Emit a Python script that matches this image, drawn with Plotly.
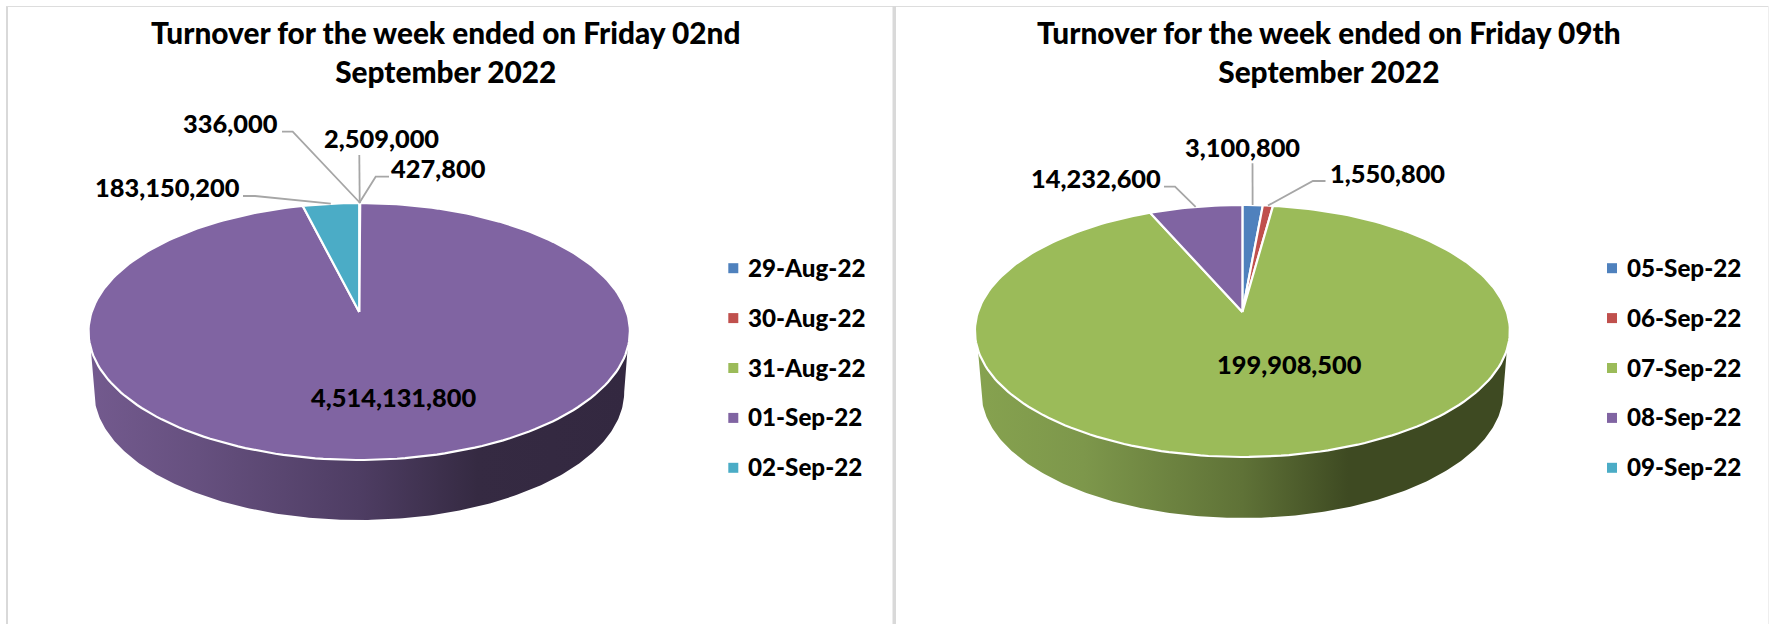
import numpy as np
import plotly.graph_objects as go

# ---- data ----
title_left = "Turnover for the week ended on Friday 02nd<br>September 2022"
title_right = "Turnover for the week ended on Friday 09th<br>September 2022"
dates_left = ["29-Aug-22", "30-Aug-22", "31-Aug-22", "01-Sep-22", "02-Sep-22"]
dates_right = ["05-Sep-22", "06-Sep-22", "07-Sep-22", "08-Sep-22", "09-Sep-22"]
values_left = [427800, 2509000, 336000, 4514131800, 183150200]
values_right = [3100800, 1550800, 199908500, 14232600, 0]
colors = ["#4F81BD", "#C0504D", "#9BBB59", "#8064A2", "#4BACC6"]

FONT = "Lato"
WEIGHT = 900
GREY = "#A6A6A6"
W, H = 1769, 624
N = 240
FS_LABEL = 25.4
FS_LEGEND = 24.2
TS = 29.8

fig = go.Figure()


def rim_xy(theta, g):
    """Perspective projection of a unit-disc rim/radius point; theta clockwise from 12 o'clock."""
    u, v = np.sin(theta), np.cos(theta)
    w = 1 + g["k"] * v
    return g["cx"] + g["a"] * u / w, g["ay"] - g["b"] * v / w


def geometry(cx, top, apex, front, rx):
    up, down = apex - top, front - apex
    k = (down - up) / (down + up)
    b = up * (1 + k)
    ry = (front - top) / 2
    cy = (front + top) / 2
    a = rx * np.sqrt(1 - ((cy - apex) / ry) ** 2)
    return dict(cx=cx, ay=apex, k=k, a=a, b=b, rx=rx, ry=ry, cy=cy)


def draw_pie(values, dates, g, side, gradient, labels, legend_x, title, title_x, inner):
    total = sum(values)
    edges = np.cumsum([0] + list(values)) / total * 2 * np.pi

    # extruded side, under the top face
    s = np.linspace(0, 1, N)
    phi = np.pi * s
    bx = g["cx"] - side["rx"] * np.cos(phi)
    by = side["cy"] + side["ry"] * np.sin(phi)
    tx = np.sqrt(1 - ((side["start"] - g["cy"]) / g["ry"]) ** 2) * g["rx"]
    px = np.r_[g["cx"] - tx, bx, g["cx"] + tx, g["cx"] - tx]
    py = np.r_[side["start"], by, side["start"], side["start"]]
    fig.add_trace(go.Scatter(
        x=px, y=py, mode="lines", fill="toself", line=dict(width=0, color="rgba(0,0,0,0)"),
        fillgradient=dict(type="horizontal", colorscale=gradient),
        hoverinfo="skip", showlegend=False))

    # slices
    for i, val in enumerate(values):
        if val == 0:
            continue
        t = np.linspace(edges[i], edges[i + 1], max(3, int(N * val / total) + 3))
        x, y = rim_xy(t, g)
        x = np.r_[g["cx"], x, g["cx"]]
        y = np.r_[g["ay"], y, g["ay"]]
        fig.add_trace(go.Scatter(
            x=x, y=y, mode="lines", fill="toself", fillcolor=colors[i],
            line=dict(color="white", width=2.2), name=dates[i], showlegend=False,
            hovertext=f"{dates[i]}: {val:,}", hoverinfo="text"))

    # data labels and leader lines: the rim end comes from the slice's mid angle
    for i, val in enumerate(values):
        if val == 0:
            continue
        mid = (edges[i] + edges[i + 1]) / 2
        if i in labels:
            lab = labels[i]
            rx_, ry_ = rim_xy(mid, g)
            fig.add_trace(go.Scatter(
                x=[lab["lx"], lab["ex"], rx_], y=[lab["ly"], lab["ly"], ry_], mode="lines",
                line=dict(color=GREY, width=1.8), hoverinfo="skip", showlegend=False))
            pos = (lab["x"], lab["y"])
        else:
            pos = inner
        fig.add_annotation(x=pos[0], y=pos[1], text=f"{val:,}", showarrow=False,
                           xanchor="center", yanchor="middle",
                           font=dict(family=FONT, size=FS_LABEL, color="black", weight=WEIGHT))

    # legend
    for i, d in enumerate(dates):
        yy = 268.2 + 49.9 * i
        fig.add_trace(go.Scatter(
            x=[legend_x], y=[yy], mode="markers", name=d, showlegend=False,
            marker=dict(symbol="square", size=10, color=colors[i], line=dict(width=0)),
            hoverinfo="skip"))
        fig.add_annotation(x=legend_x + 13, y=yy - 1, text=d, showarrow=False, xanchor="left",
                           yanchor="middle",
                           font=dict(family=FONT, size=FS_LEGEND, color="black", weight=WEIGHT))

    # title
    fig.add_annotation(x=title_x, y=51.5, text=title, showarrow=False, xanchor="center",
                       yanchor="middle", align="center",
                       font=dict(family=FONT, size=TS, color="black", weight=WEIGHT))


g_left = geometry(359.2, 203, 312, 460, 270.7)
side_left = dict(cy=392, rx=265, ry=128, start=348)
grad_left = [[0, "#735A8E"], [0.2, "#66507F"], [0.5, "#4E3D63"], [0.72, "#352A42"], [1, "#332840"]]
labels_left = {
    0: dict(x=438.5, y=168, lx=389, ex=375.7, ly=176.7),
    1: dict(x=381.5, y=138, lx=359.3, ex=359.3, ly=155),
    2: dict(x=230, y=123, lx=282, ex=292.7, ly=131.7),
    4: dict(x=167, y=187, lx=243, ex=255, ly=196),
}
draw_pie(values_left, dates_left, g_left, side_left, grad_left, labels_left, 733.3,
         title_left, 445.6, (393.5, 397))

g_right = geometry(1242.4, 205, 312, 457, 267.5)
side_right = dict(cy=392, rx=261, ry=126, start=350)
grad_right = [[0, "#86A24F"], [0.2, "#7D974B"], [0.5, "#5F7237"], [0.7, "#3E4A22"], [1, "#3E4A22"]]
labels_right = {
    0: dict(x=1242, y=146.7, lx=1252.5, ex=1252.5, ly=163.3),
    1: dict(x=1387, y=172.7, lx=1325.5, ex=1312.9, ly=181),
    3: dict(x=1096, y=178, lx=1164, ex=1175, ly=186.7),
}
draw_pie(values_right, dates_right, g_right, side_right, grad_right, labels_right, 1612,
         title_right, 1328.5, (1289, 364))

# chart frames
frame = dict(type="rect", line=dict(width=0), layer="below")
fig.add_shape(x0=6, x1=8, y0=6, y1=H, fillcolor="#D9D9D9", **frame)
fig.add_shape(x0=6, x1=W, y0=6, y1=7, fillcolor="#DDDDDD", **frame)
fig.add_shape(x0=892.5, x1=896, y0=6, y1=H, fillcolor="#D9D9D9", **frame)
fig.add_shape(x0=1768, x1=W, y0=6, y1=H, fillcolor="#EEEEEE", **frame)

fig.update_layout(
    width=W, height=H, autosize=False, margin=dict(l=0, r=0, t=0, b=0),
    paper_bgcolor="white", plot_bgcolor="white", showlegend=False,
    xaxis=dict(range=[0, W], visible=False, fixedrange=True),
    yaxis=dict(range=[H, 0], visible=False, fixedrange=True),
)
fig.write_html("out.html", config=dict(displayModeBar=False),
               post_script="document.body.style.margin='0';document.documentElement.style.overflow='hidden';")
